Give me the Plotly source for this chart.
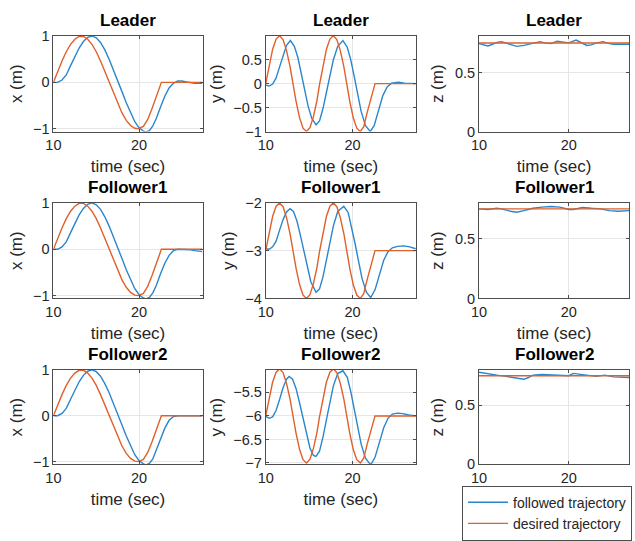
import plotly.graph_objects as go

# ---------------- data ----------------
AGENTS = ["Leader", "Follower1", "Follower2"]
SERIES_NAMES = ["followed trajectory", "desired trajectory"]

# desired x (same reference for all agents)
T_XD = [10, 10.5, 11, 11.5, 12, 12.5, 13, 13.5, 14, 14.5, 15, 15.5, 16, 16.5, 17, 17.5, 18,
        18.5, 19, 19.5, 19.9, 20.5, 21, 21.5, 22, 22.6, 27.4]
XD = [0, 0.24, 0.46, 0.66, 0.82, 0.93, 0.99, 0.99, 0.93, 0.82, 0.66, 0.46, 0.24, 0.0, -0.24,
      -0.46, -0.66, -0.82, -0.93, -0.99, -1.0, -0.95, -0.8, -0.57, -0.3, 0.0, 0.0]

# followed x
T_X = [10, 10.5, 11, 11.5, 12, 12.5, 13, 13.5, 14, 14.5, 15, 15.5, 16, 16.5, 17, 17.5, 18,
       18.5, 19, 19.5, 20, 20.5, 20.8, 21.2, 21.6, 22, 22.5, 23, 23.5, 24, 24.5, 25, 25.5,
       26, 26.5, 27.4]
LX = [0, 0.0, 0.05, 0.16, 0.36, 0.56, 0.74, 0.88, 0.97, 1.0, 0.96, 0.86, 0.7, 0.5, 0.28,
      0.04, -0.2, -0.44, -0.66, -0.85, -0.98, -1.05, -1.07, -1.04, -0.94, -0.78, -0.53,
      -0.3, -0.12, -0.02, 0.03, 0.03, 0.01, -0.01, -0.02, -0.02]
F1X = [0, 0.0, 0.05, 0.16, 0.36, 0.56, 0.74, 0.88, 0.97, 1.0, 0.96, 0.86, 0.7, 0.5, 0.28,
       0.04, -0.2, -0.44, -0.66, -0.85, -0.98, -1.05, -1.07, -1.04, -0.94, -0.78, -0.53,
       -0.3, -0.13, -0.03, 0.0, 0.0, 0.0, -0.01, -0.03, -0.05]
F2X = [0, 0.0, 0.05, 0.16, 0.36, 0.56, 0.74, 0.88, 0.97, 1.0, 0.96, 0.86, 0.7, 0.5, 0.28,
       0.04, -0.2, -0.44, -0.66, -0.85, -0.98, -1.05, -1.07, -1.04, -0.94, -0.76, -0.5,
       -0.27, -0.1, -0.02, 0.0, 0.0, 0.0, 0.0, 0.0, 0.0]

# desired y
T_YD = [10, 10.4, 10.8, 11.2, 11.6, 12.0, 12.4, 12.8, 13.1, 13.5, 13.9, 14.3, 14.7, 15.1,
        15.5, 15.9, 16.2, 16.6, 17.0, 17.4, 17.8, 18.2, 18.6, 19.0, 19.3, 19.7, 20.1, 20.5,
        20.9, 21.3, 21.7, 22.1, 22.6, 27.4]
LYD = [0, 0.39, 0.72, 0.93, 1.0, 0.92, 0.69, 0.36, 0.03, -0.37, -0.71, -0.93, -1.0, -0.92,
       -0.69, -0.36, -0.02, 0.38, 0.72, 0.93, 1.0, 0.92, 0.69, 0.36, 0.02, -0.38, -0.72,
       -0.93, -1.0, -0.9, -0.6, -0.33, 0.0, 0.0]
F1YD = [-3, -2.61, -2.28, -2.07, -2.0, -2.08, -2.31, -2.64, -2.97, -3.37, -3.71, -3.93, -4.0,
        -3.92, -3.69, -3.36, -3.02, -2.62, -2.28, -2.07, -2.0, -2.08, -2.31, -2.64, -2.98,
        -3.38, -3.72, -3.93, -4.0, -3.9, -3.6, -3.33, -3.0, -3.0]
F2YD = [-6, -5.61, -5.28, -5.07, -5.0, -5.08, -5.31, -5.64, -5.97, -6.37, -6.71, -6.93, -7.0,
        -6.92, -6.69, -6.36, -6.02, -5.62, -5.28, -5.07, -5.0, -5.08, -5.31, -5.64, -5.98,
        -6.38, -6.72, -6.93, -7.0, -6.9, -6.6, -6.33, -6.0, -6.0]

# followed y
T_LY = [10, 10.4, 10.8, 11.2, 11.6, 12.0, 12.4, 12.85, 13.3, 13.7, 14.1, 14.5, 14.9, 15.3,
        15.8, 16.2, 16.6, 17.0, 17.4, 17.8, 18.3, 18.9, 19.4, 19.8, 20.2, 20.6, 21.0, 21.5,
        22.05, 22.5, 23.0, 23.5, 24.0, 24.5, 25.3, 26.0, 27.3]
LY = [-0.03, -0.05, -0.01, 0.12, 0.35, 0.6, 0.8, 0.9, 0.78, 0.55, 0.2, -0.15, -0.48, -0.72,
      -0.86, -0.78, -0.52, -0.18, 0.18, 0.5, 0.78, 0.9, 0.76, 0.5, 0.15, -0.22, -0.58, -0.88,
      -1.0, -0.88, -0.55, -0.25, -0.07, 0.01, 0.03, 0.01, 0.0]
T_F1Y = [10, 10.4, 10.8, 11.2, 11.6, 12.0, 12.4, 12.8, 13.2, 13.6, 14.0, 14.4, 14.8, 15.2,
         15.8, 16.2, 16.6, 17.0, 17.4, 17.8, 18.3, 19.0, 19.5, 19.9, 20.3, 20.7, 21.1, 21.6,
         22.1, 22.6, 23.1, 23.6, 24.1, 24.6, 25.2, 25.9, 26.6, 27.3]
F1Y = [-2.96, -2.97, -2.92, -2.8, -2.57, -2.35, -2.19, -2.12, -2.18, -2.38, -2.68, -3.0,
       -3.35, -3.65, -3.87, -3.8, -3.55, -3.2, -2.82, -2.48, -2.18, -2.07, -2.2, -2.5, -2.85,
       -3.22, -3.58, -3.87, -3.98, -3.82, -3.5, -3.2, -3.02, -2.94, -2.91, -2.9, -2.92, -2.96]
T_F2Y = [10, 10.4, 10.8, 11.2, 11.6, 12.0, 12.4, 12.7, 13.1, 13.5, 13.9, 14.3, 14.7, 15.1,
         15.5, 15.8, 16.2, 16.6, 17.0, 17.4, 17.8, 18.3, 18.9, 19.4, 19.8, 20.2, 20.6, 21.0,
         21.5, 22.1, 22.6, 23.1, 23.6, 24.1, 24.6, 25.2, 25.8, 26.5, 27.3]
F2Y = [-6.01, -6.05, -6.02, -5.88, -5.65, -5.4, -5.22, -5.16, -5.22, -5.42, -5.72, -6.05,
       -6.4, -6.68, -6.84, -6.86, -6.75, -6.45, -6.08, -5.7, -5.36, -5.1, -5.04, -5.18, -5.48,
       -5.85, -6.25, -6.6, -6.9, -7.04, -6.88, -6.55, -6.25, -6.05, -5.96, -5.94, -5.95,
       -5.98, -6.0]

# z
T_ZD = [10, 26.7]
ZD = [0.75, 0.75]
T_LZ = [10, 10.5, 11, 11.5, 12, 12.5, 13, 13.5, 14.2, 15, 16, 16.8, 17.3, 18, 18.7, 19.5, 20,
        20.8, 21.5, 22, 22.5, 23, 23.8, 24.5, 25, 26.7]
LZ = [0.745, 0.735, 0.725, 0.74, 0.755, 0.762, 0.752, 0.74, 0.722, 0.73, 0.745, 0.762, 0.752,
      0.745, 0.765, 0.758, 0.752, 0.775, 0.752, 0.73, 0.735, 0.75, 0.762, 0.745, 0.74, 0.74]
T_F1Z = [10, 11, 12, 12.5, 13.5, 14.2, 15, 16, 17, 18, 19, 20, 20.5, 21.5, 22.5, 23.5, 24.5,
         25.5, 26.7]
F1Z = [0.75, 0.745, 0.755, 0.75, 0.73, 0.722, 0.735, 0.755, 0.765, 0.77, 0.765, 0.745, 0.745,
       0.762, 0.755, 0.75, 0.735, 0.73, 0.735]
T_F2Z = [10, 11, 12, 13, 14, 15, 15.5, 16, 17, 18, 19, 20, 20.5, 21, 22, 23, 24, 25, 26.7]
F2Z = [0.78, 0.765, 0.755, 0.745, 0.735, 0.72, 0.735, 0.755, 0.76, 0.755, 0.75, 0.75, 0.77,
       0.765, 0.75, 0.745, 0.755, 0.74, 0.735]

Y_TICKS_X = [-1, 0, 1]
Y_TICKS_Y = [[-1, -0.5, 0, 0.5], [-4, -3, -2], [-7, -6.5, -6, -5.5]]
Y_TICKS_Z = [0, 0.5]
X_TICKS = [10, 20]
X_LABEL = "time (sec)"

PANELS = [
    [(T_X, LX, T_XD, XD, "x (m)", [-1.06, 1.0], Y_TICKS_X, [10, 27.4]),
     (T_LY, LY, T_YD, LYD, "y (m)", [-1.0, 0.995], Y_TICKS_Y[0], [10, 27.3]),
     (T_LZ, LZ, T_ZD, ZD, "z (m)", [0, 0.81], Y_TICKS_Z, [10, 26.7])],
    [(T_X, F1X, T_XD, XD, "x (m)", [-1.06, 1.0], Y_TICKS_X, [10, 27.4]),
     (T_F1Y, F1Y, T_YD, F1YD, "y (m)", [-4.0, -2.0], Y_TICKS_Y[1], [10, 27.3]),
     (T_F1Z, F1Z, T_ZD, ZD, "z (m)", [0, 0.8], Y_TICKS_Z, [10, 26.7])],
    [(T_X, F2X, T_XD, XD, "x (m)", [-1.06, 1.0], Y_TICKS_X, [10, 27.4]),
     (T_F2Y, F2Y, T_YD, F2YD, "y (m)", [-7.03, -5.02], Y_TICKS_Y[2], [10, 27.3]),
     (T_F2Z, F2Z, T_ZD, ZD, "z (m)", [0, 0.8], Y_TICKS_Z, [10, 26.7])],
]

# ---------------- layout ----------------
W, H = 635, 541
COL_PX = [(46, 197), (261, 413), (477, 629)]
ROW_PX = [(29, 128), (202, 301), (375, 473)]
BLUE = "#2a86cc"
ORANGE = "#e0602a"
FONT = "Liberation Sans, Arial, Helvetica, sans-serif"
AXCOL = "#4d4d4d"
TXT = "#262626"

fig = go.Figure()
layout = dict(
    width=W, height=H, margin=dict(l=0, r=0, t=0, b=0),
    paper_bgcolor="white", plot_bgcolor="white",
    font=dict(family=FONT, color=TXT, size=14),
    showlegend=True,
    legend=dict(x=632 / W, xanchor="right", y=1 - 495 / H, yanchor="top",
                bgcolor="white", bordercolor=AXCOL, borderwidth=1,
                font=dict(size=14, color=TXT), tracegroupgap=0,
                itemwidth=40),
)
annotations = []
k = 0
for r in range(3):
    for c in range(3):
        k += 1
        tf, vf, td, vd, ylab, yr, yt, xr = PANELS[r][c]
        xa = "x" if k == 1 else f"x{k}"
        ya = "y" if k == 1 else f"y{k}"
        first = (k == 1)
        fig.add_trace(go.Scatter(x=tf, y=vf, mode="lines", name=SERIES_NAMES[0],
                                 line=dict(color=BLUE, width=1.4), xaxis=xa, yaxis=ya,
                                 showlegend=first, legendgroup="f"))
        fig.add_trace(go.Scatter(x=td, y=vd, mode="lines", name=SERIES_NAMES[1],
                                 line=dict(color=ORANGE, width=1.4), xaxis=xa, yaxis=ya,
                                 showlegend=first, legendgroup="d"))
        x0, x1 = COL_PX[c]
        y0, y1 = ROW_PX[r]
        common = dict(showline=True, linecolor=AXCOL, linewidth=1, mirror="ticks",
                      ticks="inside", ticklen=3, tickcolor=AXCOL, showgrid=True,
                      gridcolor="#e6e6e6", gridwidth=1, zeroline=False,
                      tickfont=dict(size=14.5, color=TXT, family=FONT))
        # the bottom-right panel's x label is hidden behind the legend in the reference
        xlabel = "" if (r == 2 and c == 2) else X_LABEL
        layout["xaxis" if k == 1 else f"xaxis{k}"] = dict(
            domain=[x0 / W, x1 / W], range=xr, tickvals=X_TICKS, anchor=ya,
            title=dict(text=xlabel, font=dict(size=17, color=TXT), standoff=8),
            **common)
        layout["yaxis" if k == 1 else f"yaxis{k}"] = dict(
            domain=[1 - y1 / H, 1 - y0 / H], range=yr, tickvals=yt, anchor=xa,
            title=dict(text=ylab, font=dict(size=17, color=TXT), standoff=6),
            **common)
        annotations.append(dict(
            text=f"<b>{AGENTS[r]}</b>", x=(x0 + x1) / 2 / W, y=1 - y0 / H,
            xref="paper", yref="paper", xanchor="center", yanchor="bottom",
            yshift=4, showarrow=False, font=dict(size=17, color="black", family=FONT)))
layout["annotations"] = annotations
fig.update_layout(**layout)
fig.write_html("out.html")
